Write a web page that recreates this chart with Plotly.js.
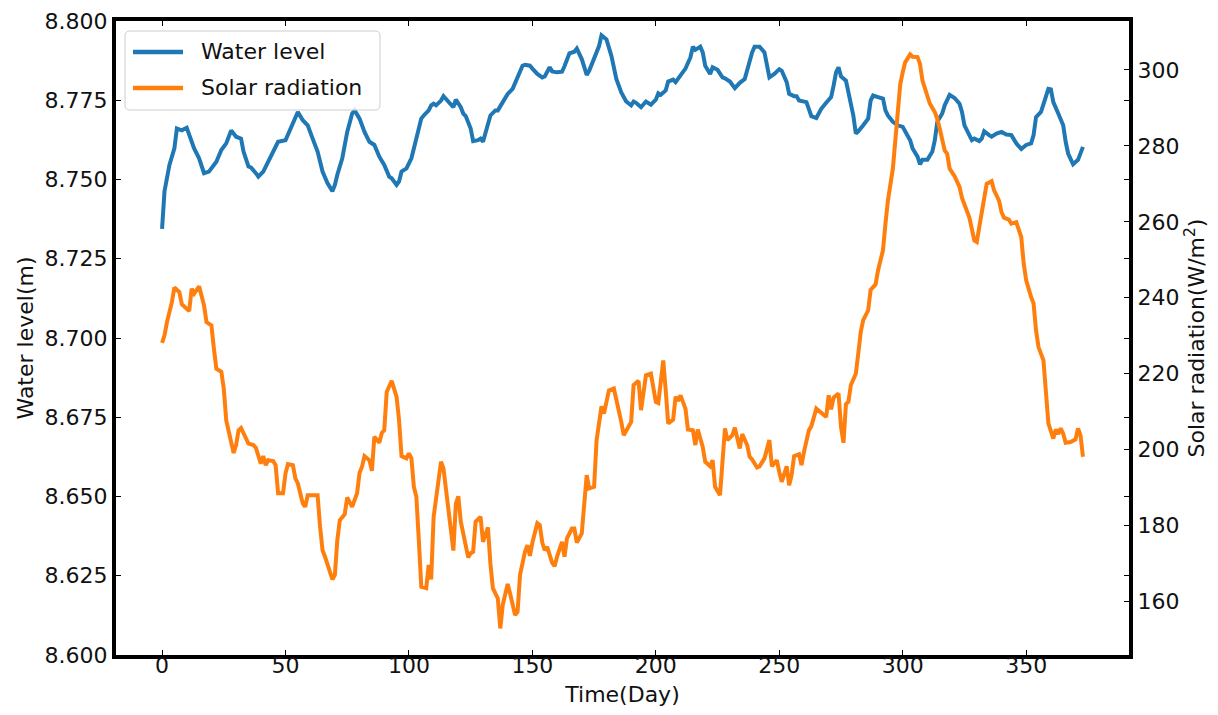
<!DOCTYPE html>
<html>
<head>
<meta charset="utf-8">
<script src="https://cdn.plot.ly/plotly-3.0.1.min.js"></script>
<style>
  html, body { margin: 0; padding: 0; background: #ffffff; }
  #chart { width: 1218px; height: 715px; }
</style>
</head>
<body>
<div id="chart"></div>
<script>
// Daily water level (m)
const waterDays = [0,1,3,5,6,8,10,11,13,15,17,19,22,24,26,28,30,32,33,35,36,38,39,41,43,45,47,50,52,54,55,57,59,61,63,65,67,69,70,71,73,75,77,78,80,82,84,86,88,90,92,93,95,96,97,99,101,103,105,106,108,109,110,111,113,114,116,118,119,121,122,123,125,126,128,129,130,132,133,135,136,138,140,142,144,146,147,149,150,152,154,155,157,158,160,162,163,165,167,168,170,172,173,175,177,178,180,182,184,186,188,190,191,192,194,196,197,198,200,201,202,204,205,207,208,210,212,214,215,216,218,219,220,222,223,225,227,228,230,232,234,236,237,239,240,242,244,245,246,248,250,251,253,254,256,257,258,261,262,263,265,267,269,271,272,273,274,275,277,278,280,281,282,284,286,287,288,290,292,293,294,296,298,300,302,303,304,306,307,308,310,312,313,314,316,317,319,321,323,324,325,327,328,329,331,332,333,335,336,338,340,342,344,346,348,350,352,353,354,356,357,359,360,361,363,365,366,367,369,371,373];
const waterLevel = [8.7344,8.7463,8.7546,8.7598,8.7661,8.7655,8.7663,8.7640,8.7598,8.7567,8.7520,8.7525,8.7556,8.7593,8.7614,8.7655,8.7635,8.7629,8.7588,8.7541,8.7538,8.7520,8.7509,8.7525,8.7556,8.7588,8.7619,8.7624,8.7661,8.7697,8.7713,8.7687,8.7671,8.7629,8.7588,8.7525,8.7489,8.7463,8.7483,8.7515,8.7567,8.7650,8.7708,8.7718,8.7692,8.7650,8.7619,8.7609,8.7572,8.7546,8.7509,8.7504,8.7483,8.7494,8.7525,8.7535,8.7567,8.7629,8.7692,8.7702,8.7718,8.7734,8.7739,8.7734,8.7749,8.7763,8.7744,8.7728,8.7752,8.7728,8.7708,8.7700,8.7661,8.7621,8.7624,8.7629,8.7619,8.7671,8.7702,8.7718,8.7718,8.7744,8.7770,8.7786,8.7822,8.7859,8.7862,8.7859,8.7850,8.7833,8.7822,8.7825,8.7854,8.7841,8.7838,8.7840,8.7857,8.7898,8.7903,8.7913,8.7880,8.7830,8.7843,8.7880,8.7921,8.7955,8.7942,8.7890,8.7817,8.7775,8.7746,8.7734,8.7746,8.7742,8.7728,8.7746,8.7739,8.7736,8.7752,8.7772,8.7767,8.7781,8.7809,8.7815,8.7807,8.7828,8.7850,8.7885,8.7919,8.7909,8.7919,8.7901,8.7859,8.7833,8.7854,8.7846,8.7822,8.7819,8.7809,8.7788,8.7805,8.7817,8.7848,8.7901,8.7919,8.7919,8.7901,8.7854,8.7822,8.7833,8.7848,8.7843,8.7807,8.7770,8.7763,8.7763,8.7749,8.7744,8.7723,8.7700,8.7694,8.7723,8.7742,8.7760,8.7796,8.7838,8.7854,8.7825,8.7812,8.7775,8.7702,8.7645,8.7652,8.7671,8.7692,8.7749,8.7765,8.7760,8.7755,8.7718,8.7702,8.7682,8.7671,8.7666,8.7640,8.7624,8.7598,8.7572,8.7548,8.7562,8.7562,8.7588,8.7624,8.7682,8.7708,8.7734,8.7767,8.7757,8.7739,8.7713,8.7671,8.7635,8.7624,8.7629,8.7621,8.7629,8.7652,8.7640,8.7635,8.7645,8.7650,8.7642,8.7640,8.7614,8.7596,8.7609,8.7614,8.7640,8.7697,8.7713,8.7739,8.7786,8.7784,8.7744,8.7708,8.7671,8.7619,8.7582,8.7548,8.7562,8.7603];

// Daily solar radiation (W/m2)
const solarDays = [0,1,2,4,5,7,8,9,11,12,13,15,17,18,20,21,22,24,25,26,28,29,30,31,32,33,35,37,38,40,41,42,43,45,46,47,49,50,51,53,54,55,57,58,59,61,63,64,65,66,69,70,71,72,74,75,77,79,80,81,82,84,85,86,88,89,90,91,93,95,96,97,99,100,101,102,103,104,105,107,108,109,110,112,113,114,116,117,118,119,120,121,123,124,125,126,127,129,130,132,133,134,136,137,138,140,141,143,144,145,147,148,149,150,152,153,154,155,156,158,159,160,162,163,164,166,167,168,170,172,173,175,176,178,179,181,183,184,186,187,189,190,191,193,194,196,198,199,200,201,203,204,205,207,208,209,210,212,213,215,216,217,219,220,222,223,224,226,227,228,229,231,232,234,235,237,238,239,241,242,244,245,246,247,249,250,251,253,254,255,256,258,259,260,262,263,265,267,269,270,271,272,274,275,276,277,278,279,281,282,283,284,286,287,289,290,292,293,294,296,297,298,299,300,301,303,304,306,307,308,310,311,313,314,315,317,318,319,321,323,324,326,327,329,330,331,333,334,336,337,338,339,340,341,343,344,346,348,349,350,352,353,354,355,357,358,359,361,362,363,364,365,366,368,370,371,372,373];
const solarRadiation = [228.1,230.1,233.6,238.9,242.7,241.5,238.3,237.6,236.5,242.4,241.1,243.0,238.0,233.6,232.7,226.6,221.3,220.5,216.1,207.7,201.6,199.1,201.2,205.1,205.7,204.4,201.6,201.2,200.5,196.3,198.3,195.9,197.2,197.0,195.9,188.5,188.5,193.7,196.2,195.9,192.4,191.1,185.8,184.9,188.0,188.0,188.0,179.7,173.5,171.8,165.8,167.0,176.2,181.4,183.0,187.4,184.9,188.5,193.9,195.5,198.3,197.2,194.4,203.4,201.8,204.4,205.1,215.2,218.1,213.9,207.7,198.3,197.7,199.0,197.7,190.2,187.6,176.2,163.9,163.5,169.6,165.8,182.3,192.0,196.8,195.0,184.9,177.9,173.4,185.8,187.7,181.0,174.4,171.6,172.7,173.1,181.0,182.3,175.7,179.5,170.0,163.5,160.8,152.9,159.1,164.6,162.0,156.4,157.3,167.0,173.1,174.8,172.0,175.5,180.6,180.1,175.5,173.5,174.4,170.2,169.3,171.8,175.7,171.8,176.6,179.2,179.2,175.5,177.9,193.3,189.8,190.2,202.5,211.4,209.5,215.6,216.1,213.5,207.3,203.8,206.4,207.3,217.0,218.1,210.4,219.6,220.0,216.5,212.6,212.3,223.5,215.6,206.9,207.9,213.9,212.8,214.3,210.8,205.3,205.1,201.2,205.3,200.7,196.8,195.6,197.2,190.2,188.0,197.2,205.6,202.5,203.8,205.8,200.3,204.1,201.2,198.1,197.4,195.3,195.6,197.7,200.3,202.5,195.6,197.2,194.1,191.5,195.6,190.6,193.3,198.3,198.8,195.9,199.4,205.1,206.2,210.8,209.7,208.6,214.3,210.6,213.7,214.8,206.0,201.8,212.0,212.6,217.0,220.0,225.3,231.0,234.1,236.7,242.1,243.5,247.2,252.5,259.5,265.6,274.0,281.4,289.3,296.3,299.4,302.0,304.1,303.5,303.4,301.6,297.2,292.8,291.1,288.9,287.1,284.5,278.8,277.9,274.0,272.0,269.2,266.3,263.0,261.1,255.1,254.7,258.6,266.5,270.0,270.7,268.3,267.0,265.6,262.6,261.1,260.6,259.5,259.9,256.0,249.0,244.6,240.2,238.5,231.4,227.0,223.5,214.8,206.9,202.9,205.3,204.1,205.6,204.2,201.8,202.0,202.7,205.6,203.8,198.1];

// Axis tick positions
const dayTicks = [0, 50, 100, 150, 200, 250, 300, 350];
const waterTicks = [8.600, 8.625, 8.650, 8.675, 8.700, 8.725, 8.750, 8.775, 8.800];
const solarTicks = [160, 180, 200, 220, 240, 260, 280, 300];

// Series names and colours
const seriesNames = ['Water level', 'Solar radiation'];
const seriesColors = ['#1f77b4', '#ff7f0e'];

const FONT = 'DejaVu Sans, Liberation Sans, sans-serif';
const INK = '#111111';
const W = 1218, H = 715;
const M = { l: 116, r: 89, t: 21, b: 60 };
const plotW = W - M.l - M.r, plotH = H - M.t - M.b;

// pixel -> paper helpers for the boxed legend
const px = v => (v - M.l) / plotW;
const py = v => 1 - (v - M.t) / plotH;

const traces = [
  {
    x: waterDays, y: waterLevel, name: seriesNames[0],
    type: 'scatter', mode: 'lines', yaxis: 'y',
    line: { color: seriesColors[0], width: 4 }
  },
  {
    x: solarDays, y: solarRadiation, name: seriesNames[1],
    type: 'scatter', mode: 'lines', yaxis: 'y2',
    line: { color: seriesColors[1], width: 4 }
  }
];

// Legend box with rounded corners
const bx0 = px(125), bx1 = px(380), by0 = py(110), by1 = py(31);
const rx = 5 / plotW, ry = 5 / plotH;
const boxPath = [
  'M', bx0 + rx, by1, 'L', bx1 - rx, by1, 'Q', bx1, by1, bx1, by1 - ry,
  'L', bx1, by0 + ry, 'Q', bx1, by0, bx1 - rx, by0,
  'L', bx0 + rx, by0, 'Q', bx0, by0, bx0, by0 + ry,
  'L', bx0, by1 - ry, 'Q', bx0, by1, bx0 + rx, by1, 'Z'
].join(' ');

const legendRows = [52, 88];
const shapes = [
  { type: 'path', xref: 'paper', yref: 'paper', path: boxPath, layer: 'above',
    fillcolor: 'rgba(255,255,255,0.8)', line: { color: '#cccccc', width: 1 } }
];
const annotations = [];
seriesNames.forEach((name, i) => {
  shapes.push({ type: 'line', xref: 'paper', yref: 'paper', layer: 'above',
    x0: px(133), x1: px(183), y0: py(legendRows[i]), y1: py(legendRows[i]),
    line: { color: seriesColors[i], width: 4.5 } });
  annotations.push({ xref: 'paper', yref: 'paper', x: px(199), y: py(legendRows[i] - 1),
    xanchor: 'left', yanchor: 'middle', showarrow: false, text: name,
    font: { family: FONT, size: 22, color: INK } });
});

const axisCommon = {
  showgrid: false, zeroline: false,
  showline: true, linecolor: '#000000', linewidth: 4,
  ticks: 'inside', ticklen: 5, tickwidth: 1, tickcolor: '#000000',
  tickfont: { family: FONT, size: 22, color: INK }
};

const layout = {
  width: W, height: H,
  margin: M,
  paper_bgcolor: '#ffffff', plot_bgcolor: '#ffffff',
  font: { family: FONT, size: 22, color: INK },
  showlegend: false,
  shapes: shapes,
  annotations: annotations,
  xaxis: Object.assign({}, axisCommon, {
    range: [-18.65, 391.65], tickvals: dayTicks, mirror: 'ticks',
    ticklabelstandoff: -12,
    title: { text: 'Time(Day)', font: { family: FONT, size: 22, color: INK }, standoff: 10 }
  }),
  yaxis: Object.assign({}, axisCommon, {
    range: [8.6, 8.8], tickvals: waterTicks, tickformat: '.3f', mirror: 'ticks',
    title: { text: 'Water level(m)', font: { family: FONT, size: 22, color: INK }, standoff: 6 }
  }),
  yaxis2: Object.assign({}, axisCommon, {
    overlaying: 'y', side: 'right',
    range: [145.9, 312.9], tickvals: solarTicks,
    title: { text: 'Solar radiation(W/m<sup>2</sup>)', font: { family: FONT, size: 22, color: INK }, standoff: 11 }
  })
};

Plotly.newPlot('chart', traces, layout, { staticPlot: true, displayModeBar: false });
</script>
</body>
</html>
